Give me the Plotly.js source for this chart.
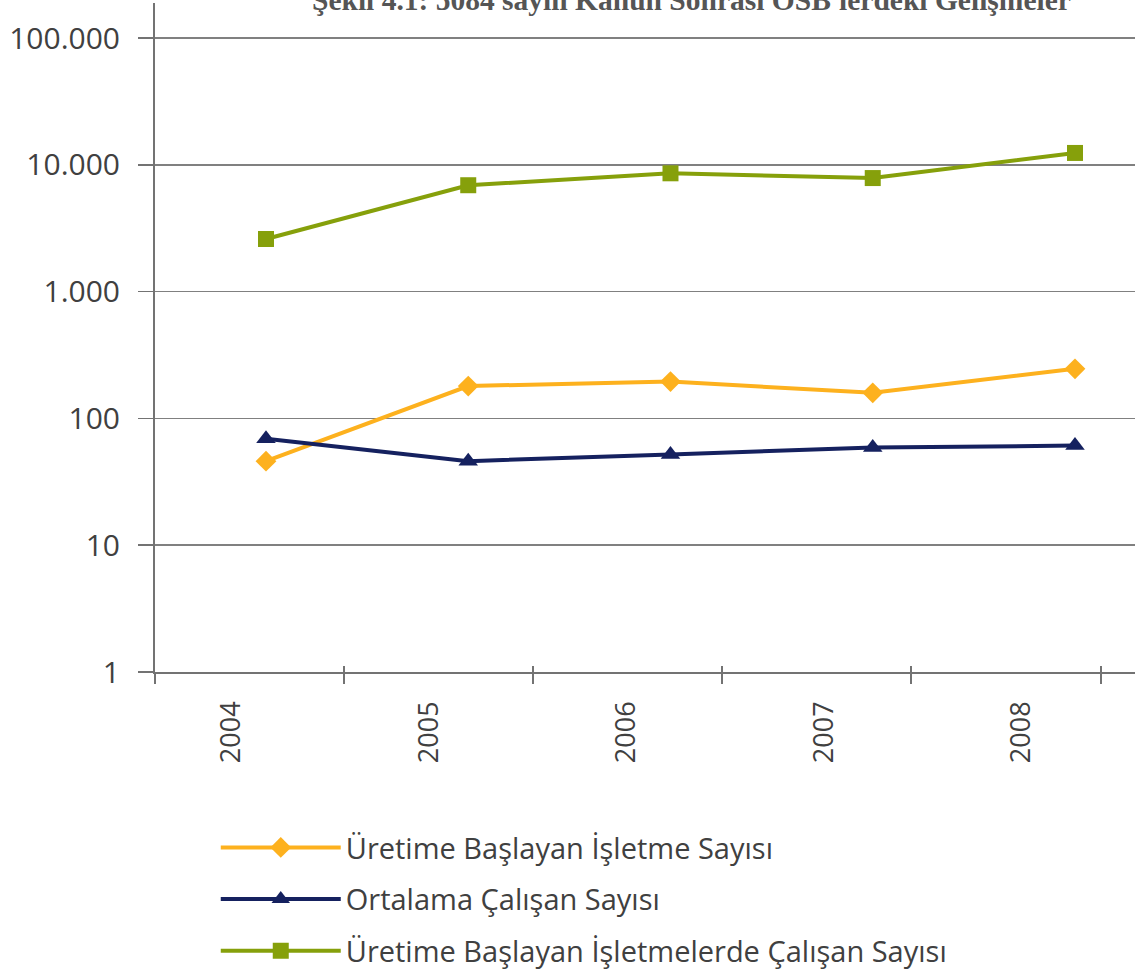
<!DOCTYPE html>
<html>
<head>
<meta charset="utf-8">
<script src="https://cdn.plot.ly/plotly-3.0.1.min.js"></script>
<style>html,body{margin:0;padding:0;background:#fff;}#chart{width:1135px;height:974px;}</style>
</head>
<body>
<div id="chart"></div>
<script>
// ---- data ----
const years = ['2004', '2005', '2006', '2007', '2008'];
const seriesNames = [
  'Üretime Başlayan İşletme Sayısı',
  'Ortalama Çalışan Sayısı',
  'Üretime Başlayan İşletmelerde Çalışan Sayısı'
];
const uretimeBaslayanIsletme = [46, 180, 195, 159, 246];
const ortalamaCalisan = [69, 46, 52, 59, 61];
const isletmelerdeCalisan = [2600, 6900, 8570, 7860, 12400];
const yTickVals = [1, 10, 100, 1000, 10000, 100000];
const yTickText = ['1', '10', '100', '1.000', '10.000', '100.000'];
const titleText = "Şekil 4.1: 5084 sayılı Kanun Sonrası OSB'lerdeki Gelişmeler";

// ---- styles ----
const colors = ['#FDB11E', '#15215F', '#86A00B'];
const symbols = ['diamond', 'triangle-up', 'square'];
const sizes = [16, 17, 16];
const values = [uretimeBaslayanIsletme, ortalamaCalisan, isletmelerdeCalisan];
const gray = '#737373';

const traces = values.map((v, i) => ({
  type: 'scatter',
  mode: 'lines+markers',
  x: years,
  y: v,
  name: seriesNames[i],
  legendgroup: 'g' + i,
  line: {color: colors[i], width: 4},
  marker: {color: colors[i], symbol: symbols[i], size: sizes[i]},
  hoverinfo: 'x+y'
}));

// empty helper traces so that the overlay axes (labels, tick marks) are drawn
['x2', 'x3', 'x4'].forEach(ax => traces.push({
  type: 'scatter', mode: 'none', x: [], y: [], xaxis: ax, yaxis: 'y',
  showlegend: false, hoverinfo: 'skip'
}));

const layout = {
  width: 1135,
  height: 974,
  margin: {l: 155, r: 0, t: 3, b: 302},
  paper_bgcolor: '#ffffff',
  plot_bgcolor: '#ffffff',
  showlegend: true,
  font: {family: 'Open Sans, sans-serif', color: '#404040'},
  xaxis: {
    type: 'category',
    range: [-0.5488, 4.2967],
    visible: false,
    fixedrange: true
  },
  xaxis2: {
    overlaying: 'x',
    anchor: 'y',
    type: 'linear',
    range: [-0.3884, 4.574],
    tickmode: 'array',
    tickvals: [0, 1, 2, 3, 4],
    ticktext: years,
    tickangle: -90,
    ticks: '',
    showgrid: false,
    zeroline: false,
    showline: false,
    ticklabelstandoff: 23,
    tickfont: {family: 'Open Sans, sans-serif', size: 27, color: '#404040'}
  },
  xaxis3: {
    overlaying: 'x',
    anchor: 'y',
    type: 'linear',
    range: [0, 5.182],
    tickmode: 'array',
    tickvals: [0, 1, 2, 3, 4, 5],
    ticks: 'outside',
    ticklen: 10,
    tickwidth: 2,
    tickcolor: gray,
    showticklabels: false,
    showgrid: false,
    zeroline: false,
    showline: true,
    linecolor: gray,
    linewidth: 2
  },
  xaxis4: {
    overlaying: 'x',
    anchor: 'y',
    type: 'linear',
    range: [0, 5.182],
    tickmode: 'array',
    tickvals: [0, 1, 2, 3, 4, 5],
    ticks: 'inside',
    ticklen: 6,
    tickwidth: 2,
    tickcolor: gray,
    showticklabels: false,
    showgrid: false,
    zeroline: false,
    showline: false
  },
  yaxis: {
    type: 'log',
    range: [0, 5.276],
    tickmode: 'array',
    tickvals: yTickVals,
    ticktext: yTickText,
    ticks: 'outside',
    ticklen: 15,
    tickwidth: 1.5,
    tickcolor: gray,
    showgrid: true,
    gridcolor: '#808080',
    gridwidth: 1.5,
    showline: true,
    linecolor: gray,
    linewidth: 2,
    zeroline: false,
    ticklabelstandoff: 12,
    tickfont: {family: 'Open Sans, sans-serif', size: 30, color: '#404040'}
  },
  legend: {
    xref: 'paper',
    yref: 'container',
    x: 0.062,
    xanchor: 'left',
    y: 0.156,
    yanchor: 'top',
    orientation: 'v',
    traceorder: 'grouped',
    tracegroupgap: 11,
    itemwidth: 120,
    bgcolor: 'rgba(0,0,0,0)',
    font: {family: 'Open Sans, sans-serif', size: 29, color: '#404040'}
  },
  annotations: [{
    text: '<b>' + titleText + '</b>',
    xref: 'paper',
    yref: 'paper',
    x: 0.5474,
    y: 0.9776,
    xanchor: 'center',
    yanchor: 'bottom',
    showarrow: false,
    font: {family: 'Liberation Serif, serif', size: 29.5, color: '#555555'}
  }]
};

Plotly.newPlot('chart', traces, layout, {displayModeBar: false, staticPlot: true});
</script>
</body>
</html>
